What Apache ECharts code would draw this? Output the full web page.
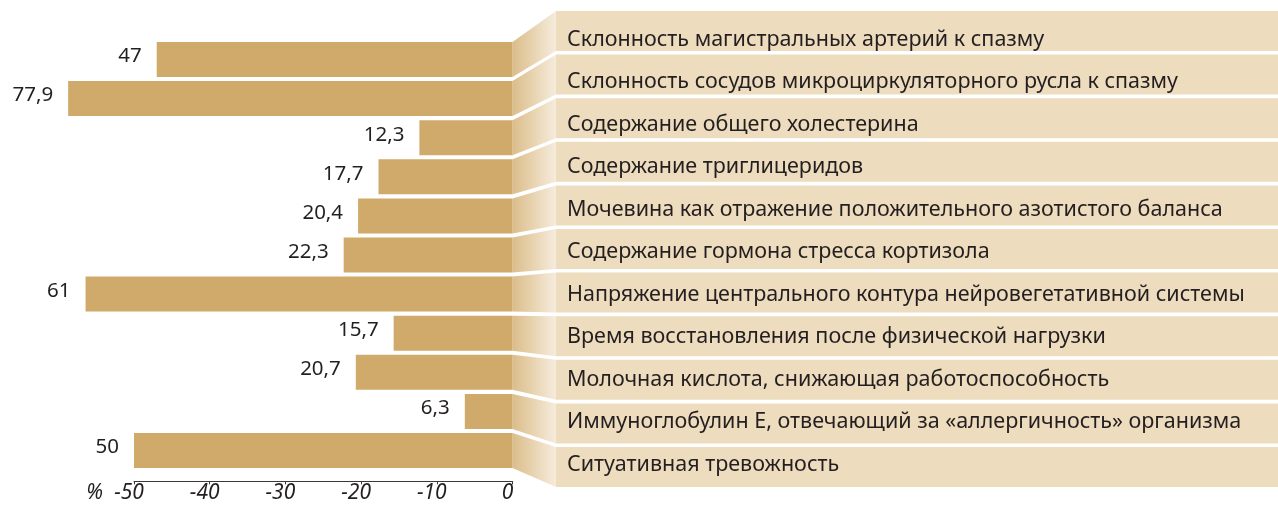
<!DOCTYPE html>
<html>
<head>
<meta charset="utf-8">
<script src="https://cdn.jsdelivr.net/npm/echarts@6/dist/echarts.min.js"></script>
<style>
  html, body { margin: 0; padding: 0; background: #fff; }
  #chart { width: 1278px; height: 508px; }
</style>
</head>
<body>
<div id="chart"></div>
<script>
const categories = [
  'Склонность магистральных артерий к спазму',
  'Склонность сосудов микроциркуляторного русла к спазму',
  'Содержание общего холестерина',
  'Содержание триглицеридов',
  'Мочевина как отражение положительного азотистого баланса',
  'Содержание гормона стресса кортизола',
  'Напряжение центрального контура нейровегетативной системы',
  'Время восстановления после физической нагрузки',
  'Молочная кислота, снижающая работоспособность',
  'Иммуноглобулин Е, отвечающий за «аллергичность» организма',
  'Ситуативная тревожность'
]
const values = [47, 77.9, 12.3, 17.7, 20.4, 22.3, 61, 15.7, 20.7, 6.3, 50]
const drawnLength = [47, 58.7, 12.3, 17.7, 20.4, 22.3, 56.4, 15.7, 20.7, 6.3, 50]
const xMin = -50
const xMax = 0
const xStep = 10

const W = 1278
const n = categories.length
const barGap = 4.1
const panelGap = 3.6
const barGrid = { left: 134, right: 765.5, top: 39.95, height: 430.1 }
const panelGrid = { left: 556, right: 0, top: 9.2, height: 479.6 }
const textGrid = { left: 567, right: 0, top: 18.45, height: 467.5 }

const font = '"Noto Sans", sans-serif'
const textColor = '#231f20'

const chart = echarts.init(document.getElementById('chart'))

const hiddenX = i => ({ gridIndex: i, type: 'value', min: 0, max: 1, show: false })
const hiddenY = i => ({ gridIndex: i, type: 'category', inverse: true, data: categories, show: false })

chart.setOption({
  animation: false,
  grid: [barGrid, panelGrid, textGrid],
  xAxis: [{
    gridIndex: 0,
    type: 'value',
    min: xMin,
    max: xMax,
    interval: xStep,
    offset: 11.3,
    splitLine: { show: false },
    axisLine: { show: true, lineStyle: { color: '#3a3a3a', width: 1 } },
    axisTick: { show: true, length: 3, lineStyle: { color: '#3a3a3a' } },
    axisLabel: {
      margin: 1,
      padding: [0, 10, 0, 0],
      fontFamily: font,
      fontStyle: 'italic',
      fontSize: 21,
      color: textColor
    },
    name: '%',
    nameLocation: 'start',
    nameGap: 31,
    nameTextStyle: {
      fontFamily: font,
      fontStyle: 'italic',
      fontSize: 21,
      color: textColor,
      verticalAlign: 'top',
      padding: [1, 0, 0, 0]
    }
  }, hiddenX(1), hiddenX(2)],
  yAxis: [hiddenY(0), hiddenY(1), hiddenY(2)],
  series: [{
    type: 'bar',
    xAxisIndex: 0,
    yAxisIndex: 0,
    data: drawnLength.map(v => -v),
    barWidth: 35,
    clip: false,
    itemStyle: { color: '#d0aa6a' },
    label: {
      show: true,
      position: 'left',
      distance: 15,
      offset: [0, -3],
      fontFamily: font,
      fontSize: 20.5,
      color: textColor,
      formatter: p => String(values[p.dataIndex]).replace('.', ',')
    }
  }, {
    // connectors from the bars and the beige label panels
    type: 'custom',
    xAxisIndex: 1,
    yAxisIndex: 1,
    data: categories.map((c, i) => [0, i]),
    renderItem(params, api) {
      const i = api.value(1)
      const c = api.coord([0, i])
      const band = api.size([0, 1])[1]
      const cs = params.coordSys
      const pTop = c[1] - band / 2 + panelGap / 2
      const pBot = c[1] + band / 2 - panelGap / 2
      const barBand = barGrid.height / n
      const bTop = barGrid.top + i * barBand + barGap / 2
      const bBot = bTop + barBand - barGap
      const x0 = W - barGrid.right
      return {
        type: 'group',
        children: [{
          type: 'polygon',
          shape: { points: [[x0, bTop], [cs.x, pTop], [cs.x, pBot], [x0, bBot]] },
          style: {
            fill: new echarts.graphic.LinearGradient(0, 0, 1, 0, [
              { offset: 0, color: '#dbbd8a' },
              { offset: 1, color: '#f6ecdc' }
            ])
          }
        }, {
          type: 'rect',
          shape: { x: cs.x, y: pTop, width: cs.width, height: pBot - pTop },
          style: { fill: '#eedcbe' }
        }]
      }
    }
  }, {
    type: 'custom',
    xAxisIndex: 2,
    yAxisIndex: 2,
    z: 5,
    data: categories.map((c, i) => [0, i]),
    renderItem(params, api) {
      const i = api.value(1)
      const c = api.coord([0, i])
      return {
        type: 'text',
        style: {
          x: params.coordSys.x,
          y: c[1],
          text: categories[i],
          fontFamily: font,
          fontSize: 21.5,
          fill: textColor,
          verticalAlign: 'middle',
          align: 'left'
        }
      }
    }
  }]
})
</script>
</body>
</html>
